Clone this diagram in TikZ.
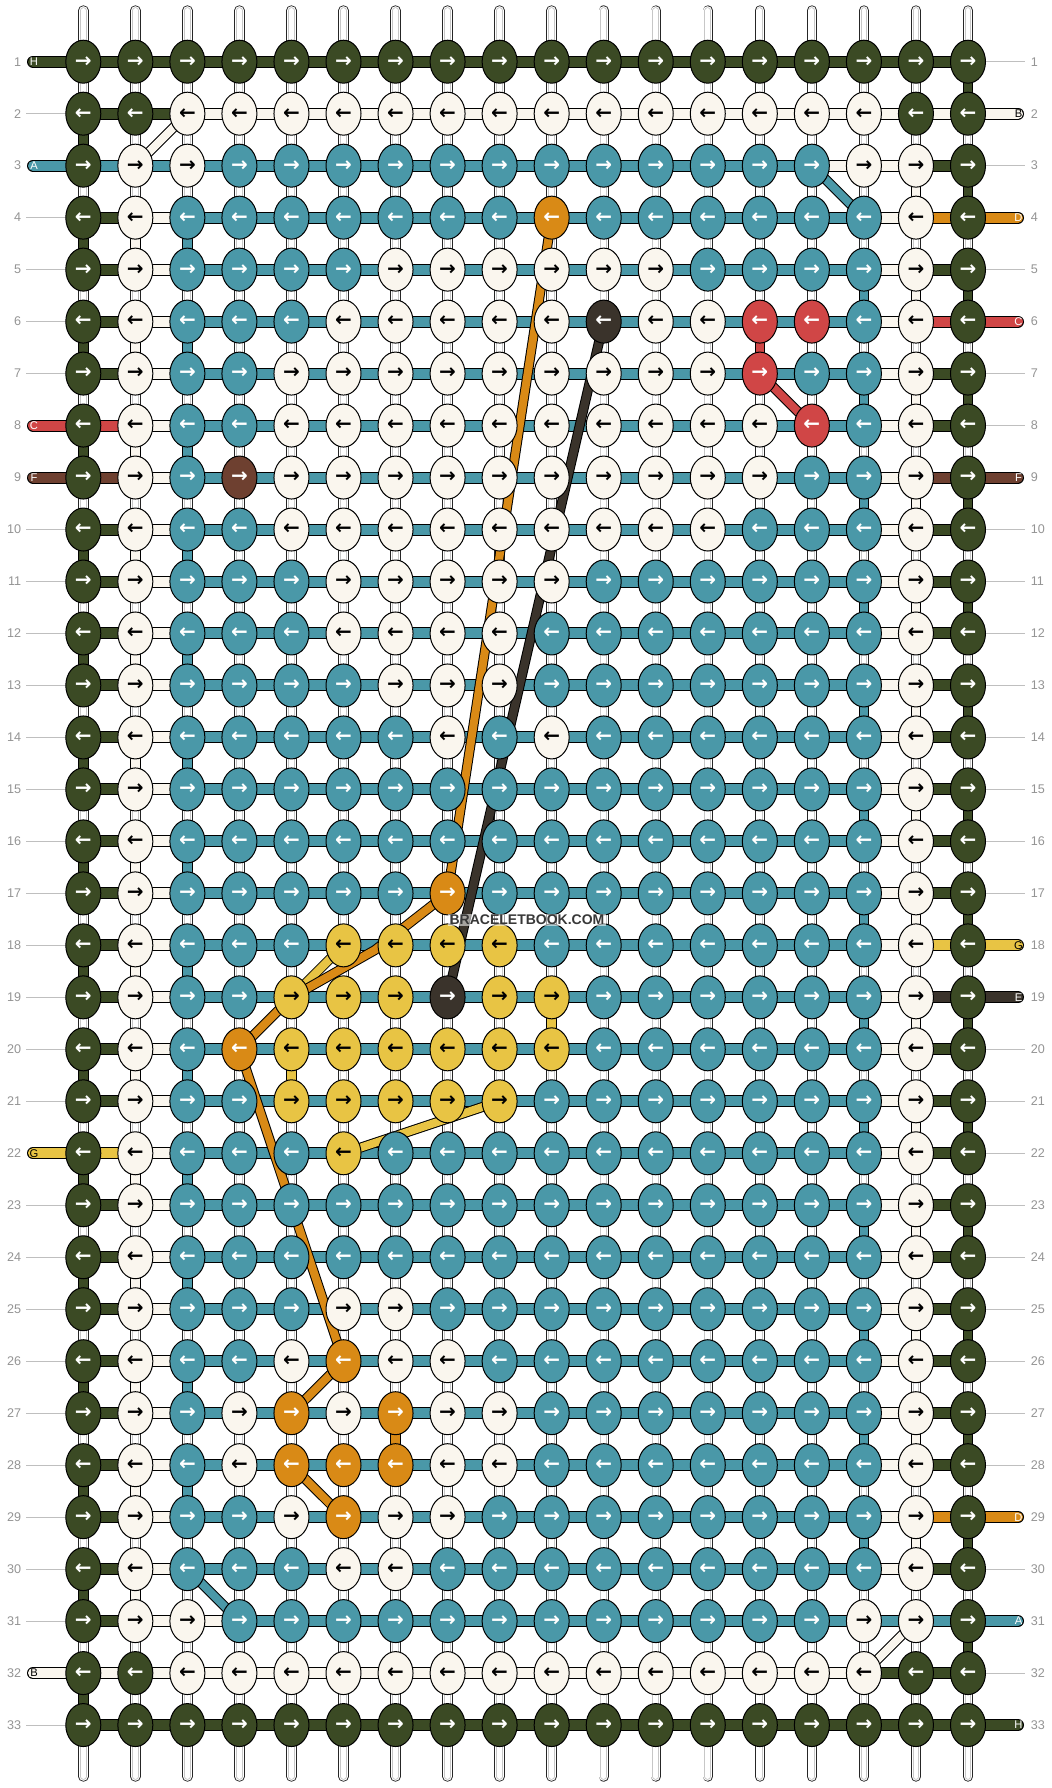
\documentclass[tikz,border=0pt]{standalone}
\usepackage{fontspec}
\setmainfont{Liberation Sans}
\newfontfamily\arrowfont{DejaVu Sans}
\usetikzlibrary{shapes.geometric}
\pgfdeclarelayer{back}
\pgfdeclarelayer{tubes}
\pgfdeclarelayer{strands}
\pgfsetlayers{back,tubes,strands,main}
\definecolor{cG}{HTML}{3B4A24}
\definecolor{cW}{HTML}{FAF6EE}
\definecolor{cT}{HTML}{4A98A8}
\definecolor{cO}{HTML}{D98A16}
\definecolor{cR}{HTML}{D04646}
\definecolor{cF}{HTML}{6E4030}
\definecolor{cY}{HTML}{E8C444}
\definecolor{cE}{HTML}{3A332B}
\colorlet{aG}{white}\colorlet{aW}{black}\colorlet{aT}{white}\colorlet{aO}{white}
\colorlet{aR}{white}\colorlet{aF}{white}\colorlet{aY}{black}\colorlet{aE}{white}
\tikzset{
  knot/.style={ellipse, draw=black, line width=0.5pt, minimum width=17.5pt, minimum height=21.5pt,
    inner sep=0pt, font=\arrowfont\bfseries\fontsize{10}{10}\selectfont},
  seg/.style={draw=black, line width=0.5pt, double=#1, double distance=5pt},
  vseg/.style={draw=black, line width=0.5pt, double=#1, double distance=4.2pt},
  dseg/.style={draw=black, line width=0.5pt, double=#1, double distance=4pt, line join=round},
  lab/.style={seg=#1, line cap=round},
  labtext/.style={font=\fontsize{5.6}{6}\selectfont, inner sep=0pt},
  tubeA/.style={line width=5.2pt, draw=black!85, line cap=round},
  tubeB/.style={line width=4.3pt, draw=white, line cap=round},
  tubeC/.style={line width=3.3pt, draw=black!22, line cap=round},
  tubeD/.style={line width=2.4pt, draw=white, line cap=round},
  rownum/.style={text=black!42, font=\fontsize{6.3}{7}\selectfont, inner sep=0pt},
  guide/.style={draw=black!25, line width=0.5pt},
}
\newcommand\SLdef{G,W,T,T,T,T,T,T,T,T,T,T,T,T,T,W,G}
\newcommand\SLone{G,G,G,G,G,G,G,G,G,G,G,G,G,G,G,G,G}
\newcommand\SLtwo{G,G,W,W,W,W,W,W,W,W,W,W,W,W,W,W,W}
\newcommand\SLthree{T,T,T,T,T,T,T,T,T,T,T,T,T,T,W,W,G}
\newcommand\SLtoo{G,W,W,T,T,T,T,T,T,T,T,T,T,T,T,T,T}
\newcommand\SLtto{W,W,W,W,W,W,W,W,W,W,W,W,W,W,W,G,G}
\newcommand\drawsegs[2]{\foreach \s [count=\j] in #2 {\pgfmathtruncatemacro\jj{\j+1}\draw[seg=c\s] (k#1-\j.center) -- (k#1-\jj.center);}}
\begin{document}
\begin{tikzpicture}[x=0.5pt,y=-0.5pt]
\begin{pgfonlayer}{back}
\fill[white] (0,0) rectangle (1052,1788);
\end{pgfonlayer}
\useasboundingbox (0,0) rectangle (1052,1788);
% knots
\foreach \r/\cols in {
 1/{G,G,G,G,G,G,G,G,G,G,G,G,G,G,G,G,G,G},
 2/{G,G,W,W,W,W,W,W,W,W,W,W,W,W,W,W,G,G},
 3/{G,W,W,T,T,T,T,T,T,T,T,T,T,T,T,W,W,G},
 4/{G,W,T,T,T,T,T,T,T,O,T,T,T,T,T,T,W,G},
 5/{G,W,T,T,T,T,W,W,W,W,W,W,T,T,T,T,W,G},
 6/{G,W,T,T,T,W,W,W,W,W,E,W,W,R,R,T,W,G},
 7/{G,W,T,T,W,W,W,W,W,W,W,W,W,R,T,T,W,G},
 8/{G,W,T,T,W,W,W,W,W,W,W,W,W,W,R,T,W,G},
 9/{G,W,T,F,W,W,W,W,W,W,W,W,W,W,T,T,W,G},
 10/{G,W,T,T,W,W,W,W,W,W,W,W,W,T,T,T,W,G},
 11/{G,W,T,T,T,W,W,W,W,W,T,T,T,T,T,T,W,G},
 12/{G,W,T,T,T,W,W,W,W,T,T,T,T,T,T,T,W,G},
 13/{G,W,T,T,T,T,W,W,W,T,T,T,T,T,T,T,W,G},
 14/{G,W,T,T,T,T,T,W,T,W,T,T,T,T,T,T,W,G},
 15/{G,W,T,T,T,T,T,T,T,T,T,T,T,T,T,T,W,G},
 16/{G,W,T,T,T,T,T,T,T,T,T,T,T,T,T,T,W,G},
 17/{G,W,T,T,T,T,T,O,T,T,T,T,T,T,T,T,W,G},
 18/{G,W,T,T,T,Y,Y,Y,Y,T,T,T,T,T,T,T,W,G},
 19/{G,W,T,T,Y,Y,Y,E,Y,Y,T,T,T,T,T,T,W,G},
 20/{G,W,T,O,Y,Y,Y,Y,Y,Y,T,T,T,T,T,T,W,G},
 21/{G,W,T,T,Y,Y,Y,Y,Y,T,T,T,T,T,T,T,W,G},
 22/{G,W,T,T,T,Y,T,T,T,T,T,T,T,T,T,T,W,G},
 23/{G,W,T,T,T,T,T,T,T,T,T,T,T,T,T,T,W,G},
 24/{G,W,T,T,T,T,T,T,T,T,T,T,T,T,T,T,W,G},
 25/{G,W,T,T,T,W,W,T,T,T,T,T,T,T,T,T,W,G},
 26/{G,W,T,T,W,O,W,W,T,T,T,T,T,T,T,T,W,G},
 27/{G,W,T,W,O,W,O,W,W,T,T,T,T,T,T,T,W,G},
 28/{G,W,T,W,O,O,O,W,W,T,T,T,T,T,T,T,W,G},
 29/{G,W,T,T,W,O,W,W,T,T,T,T,T,T,T,T,W,G},
 30/{G,W,T,T,T,W,W,T,T,T,T,T,T,T,T,T,W,G},
 31/{G,W,W,T,T,T,T,T,T,T,T,T,T,T,T,W,W,G},
 32/{G,G,W,W,W,W,W,W,W,W,W,W,W,W,W,W,G,G},
 33/{G,G,G,G,G,G,G,G,G,G,G,G,G,G,G,G,G,G}}{
  \foreach \c [count=\j] in \cols {
    \node[knot, fill=c\c, text=a\c] (k\r-\j) at ({83.3+52.04*(\j-1)},{61.7+51.98*(\r-1)}) {\ifodd\r →\else ←\fi};
  }
}
% base strings
\begin{pgfonlayer}{tubes}
\foreach \j in {1,...,18}{
  \coordinate (t\j) at ({83.3+52.04*(\j-1)},10.5);
  \coordinate (b\j) at ({83.3+52.04*(\j-1)},1776.5);
  \draw[tubeA] (t\j) -- (b\j);
  \draw[tubeB] (t\j) -- (b\j);
  \draw[tubeC] (t\j) -- (b\j);
  \draw[tubeD] (t\j) -- (b\j);
}
\end{pgfonlayer}
\begin{pgfonlayer}{strands}
% horizontal strands
\drawsegs{1}{\SLone}
\drawsegs{2}{\SLtwo}
\drawsegs{3}{\SLthree}
\foreach \r in {4,...,30}{\drawsegs{\r}{\SLdef}}
\drawsegs{31}{\SLtoo}
\drawsegs{32}{\SLtto}
\drawsegs{33}{\SLone}
% vertical turns
\foreach \r in {2,4,...,32}{\pgfmathtruncatemacro\rr{\r+1}\draw[vseg=cG] (k\r-1.center) -- (k\rr-1.center);}
\foreach \r in {1,3,...,31}{\pgfmathtruncatemacro\rr{\r+1}\draw[vseg=cG] (k\r-18.center) -- (k\rr-18.center);}
\foreach \r in {4,6,...,28}{\pgfmathtruncatemacro\rr{\r+1}\draw[vseg=cT] (k\r-3.center) -- (k\rr-3.center);}
\foreach \r in {5,7,...,29}{\pgfmathtruncatemacro\rr{\r+1}\draw[vseg=cT] (k\r-16.center) -- (k\rr-16.center);}
\foreach \r in {4,6,...,30}{\pgfmathtruncatemacro\rr{\r+1}\draw[vseg=cW] (k\r-2.center) -- (k\rr-2.center);}
\foreach \r in {3,5,...,29}{\pgfmathtruncatemacro\rr{\r+1}\draw[vseg=cW] (k\r-17.center) -- (k\rr-17.center);}
% labels
\foreach \r/\c/\l/\t in {1/G/H/white, 3/T/A/white, 8/R/C/white, 9/F/F/white, 22/Y/G/black, 32/W/B/black}{
  \coordinate (L\r) at (33,{61.7+51.98*(\r-1)});
  \draw[lab=c\c] (L\r) -- (k\r-2.center);
  \node[labtext, text=\t] (lt\r) at (34,{61.7+51.98*(\r-1)}) {\l};
}
\foreach \r/\c/\l/\t in {2/W/B/black, 4/O/D/white, 6/R/C/white, 9/F/F/white, 18/Y/G/black, 19/E/E/white, 29/O/D/white, 31/T/A/white, 33/G/H/white}{
  \coordinate (R\r) at (1018,{61.7+51.98*(\r-1)});
  \draw[lab=c\c] (k\r-17.center) -- (R\r);
  \node[labtext, text=\t] (rt\r) at (1018.5,{61.7+51.98*(\r-1)}) {\l};
}
% guides
\foreach \r in {2,4,5,6,7,10,11,12,13,14,15,16,17,18,19,20,21,23,24,25,26,27,28,29,30,31,33}{
  \coordinate (gl\r) at (26,{61.7+51.98*(\r-1)});
  \draw[guide] (gl\r) -- (k\r-1.center);
}
\foreach \r in {1,3,5,7,8,10,11,12,13,14,15,16,17,20,21,22,23,24,25,26,27,28,30,32}{
  \coordinate (gr\r) at (1025,{61.7+51.98*(\r-1)});
  \draw[guide] (k\r-18.center) -- (gr\r);
}
% special strands
\draw[dseg=cT] (k3-15.center) -- (k4-16.center);
\draw[dseg=cT] (k30-3.center) -- (k31-4.center);
\draw[dseg=cW] (k2-3.center) -- (k3-2.center);
\draw[dseg=cW] (k31-17.center) -- (k32-16.center);
\draw[vseg=cR] (k6-14.center) -- (k7-14.center);
\draw[dseg=cR] (k7-14.center) -- (k8-15.center);
\draw[dseg=cY] (k18-6.center) -- (k19-5.center);
\draw[dseg=cY] (k21-9.center) -- (k22-6.center);
\draw[vseg=cY] (k19-10.center) -- (k20-10.center);
\draw[vseg=cY] (k20-5.center) -- (k21-5.center);
\draw[dseg=cO] (k4-10.center) -- (k17-8.center);
\coordinate (okink) at (375,950);
\draw[dseg=cO] (k17-8.center) -- (okink) -- (k19-5.center) -- (k20-4.center);
\draw[dseg=cO] (k20-4.center) -- (k26-6.center);
\draw[dseg=cO] (k26-6.center) -- (k27-5.center);
\draw[dseg=cO] (k28-5.center) -- (k29-6.center);
\draw[vseg=cO] (k27-7.center) -- (k28-7.center);
\draw[dseg=cE] (k6-11.center) -- (k19-8.center);
\end{pgfonlayer}
% row numbers
\foreach \r in {1,...,33}{
  \node[rownum, anchor=east] (nl\r) at (21.5,{61.7+51.98*(\r-1)}) {\r};
  \node[rownum, anchor=west] (nr\r) at (1030.5,{61.7+51.98*(\r-1)}) {\r};
}
\node[font=\bfseries\fontsize{7}{8}\selectfont, text=black!78, inner sep=0.6pt, fill=white, fill opacity=0.55, text opacity=1] (wm) at (527,920) {BRACELETBOOK.COM};
\end{tikzpicture}
\end{document}
